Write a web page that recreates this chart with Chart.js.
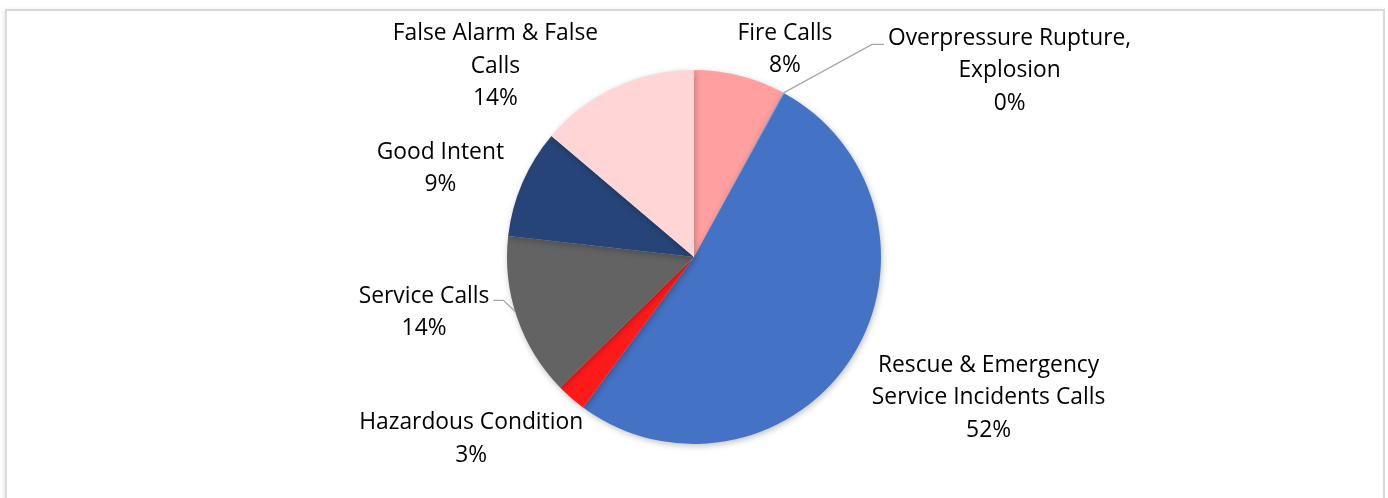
<!DOCTYPE html>
<html>
<head>
<meta charset="utf-8">
<script src="https://cdn.jsdelivr.net/npm/chart.js@4"></script>
<style>
  html, body { margin: 0; padding: 0; background: #fff; }
  #wrap { position: relative; width: 1388px; height: 498px; overflow: hidden; }
  #frame { position: absolute; left: 5px; top: 9px; width: 1376px; height: 520px; border: 2px solid #d9d9d9; box-shadow: -2px 0 4px rgba(0,0,0,0.08); }
  #chart { position: absolute; left: 0; top: 0; }
</style>
</head>
<body>
<div id="wrap">
  <div id="frame"></div>
  <canvas id="chart" width="1388" height="498"></canvas>
</div>
<script>
// categories and shares (percent of calls)
const categories = [
  ['Fire Calls'],
  ['Overpressure Rupture,', 'Explosion'],
  ['Rescue & Emergency', 'Service Incidents Calls'],
  ['Hazardous Condition'],
  ['Service Calls'],
  ['Good Intent'],
  ['False Alarm & False', 'Calls']
];
const shares = [7.9, 0.1, 52.1, 2.6, 14.1, 9.4, 13.8];
const sliceColors = ['#FF9F9F', '#8FAADC', '#4472C4', '#FF1A1A', '#636363', '#264478', '#FFD5D5'];

// label placement: nudge from the slice's outer mid point, and whether a leader line is drawn
const labelNudge = [
  { dx: 45, dy: -26 },
  { dx: 226, dy: -22, leader: 'left' },
  { dx: 137, dy: 40 },
  { dx: -100, dy: 41 },
  { dx: -93, dy: -5, leader: 'right' },
  { dx: -82, dy: -14 },
  { dx: -120, dy: -21 }
];

const FONT = '22.8px "Open Sans", sans-serif';
const LINE_H = 32.5;

const labelPlugin = {
  id: 'pieLabels',
  beforeDatasetsDraw(chart) {
    const ctx = chart.ctx;
    ctx.save();
    ctx.shadowColor = 'rgba(0,0,0,0.25)';
    ctx.shadowBlur = 6;
    ctx.shadowOffsetX = 1;
    ctx.shadowOffsetY = 2;
  },
  afterDatasetsDraw(chart) {
    const ctx = chart.ctx;
    ctx.restore();
    const total = shares.reduce((a, b) => a + b, 0);
    const arcs = chart.getDatasetMeta(0).data;
    ctx.save();
    ctx.font = FONT;
    ctx.fillStyle = '#000';
    ctx.textAlign = 'center';
    ctx.textBaseline = 'middle';
    arcs.forEach((arc, i) => {
      const mid = (arc.startAngle + arc.endAngle) / 2;
      const ex = arc.x + Math.cos(mid) * arc.outerRadius;
      const ey = arc.y + Math.sin(mid) * arc.outerRadius;
      const nudge = labelNudge[i];
      const lines = categories[i].concat([Math.round(shares[i] / total * 100) + '%']);
      const cx = ex + nudge.dx;
      const cy = ey + nudge.dy;
      const top = cy - (lines.length - 1) * LINE_H / 2;
      lines.forEach((t, k) => ctx.fillText(t, cx, top + k * LINE_H));

      if (nudge.leader) {
        const w = ctx.measureText(lines[0]).width;
        ctx.strokeStyle = '#a6a6a6';
        ctx.lineWidth = 1.3;
        ctx.beginPath();
        if (nudge.leader === 'left') {
          const lx = cx - w / 2 - 4;
          ctx.moveTo(ex, ey);
          ctx.lineTo(lx - 12, top + 6);
          ctx.lineTo(lx, top + 6);
        } else {
          const lx = cx + w / 2 + 4;
          ctx.moveTo(lx, top + 4);
          ctx.lineTo(lx + 10, top + 4);
          ctx.lineTo(ex - 2, ey - 6);
        }
        ctx.stroke();
      }
    });
    ctx.restore();
  }
};

new Chart(document.getElementById('chart'), {
  type: 'pie',
  data: {
    labels: categories.map((c) => c.join(' ')),
    datasets: [{
      data: shares,
      backgroundColor: sliceColors,
      borderWidth: 0
    }]
  },
  options: {
    responsive: false,
    animation: false,
    layout: { padding: { top: 70, bottom: 54, left: 0, right: 0 } },
    plugins: {
      legend: { display: false },
      tooltip: { enabled: false }
    }
  },
  plugins: [labelPlugin]
});
</script>
</body>
</html>
